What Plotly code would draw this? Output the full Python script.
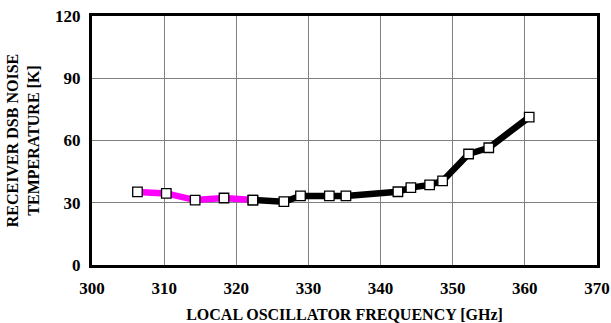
import plotly.graph_objects as go

freq_magenta = [306.3, 310.3, 314.3, 318.3, 322.3]
temp_magenta = [35.2, 34.5, 31.3, 32.3, 31.3]
freq_black = [322.3, 326.6, 328.9, 332.9, 335.2, 342.4, 344.2, 346.8, 348.6, 352.2, 355.0, 360.6]
temp_black = [31.3, 30.5, 33.3, 33.3, 33.3, 35.3, 37.3, 38.6, 40.5, 53.5, 56.5, 71.3]
x_ticks = [300, 310, 320, 330, 340, 350, 360, 370]
y_ticks = [0, 30, 60, 90, 120]

font = dict(family="Liberation Serif", color="black")
fig = go.Figure()
fig.add_trace(go.Scatter(x=freq_magenta, y=temp_magenta, mode="lines",
                         line=dict(color="#ff00ff", width=6.5), showlegend=False))
fig.add_trace(go.Scatter(x=freq_black, y=temp_black, mode="lines",
                         line=dict(color="black", width=6.5), showlegend=False))
fig.add_trace(go.Scatter(x=freq_magenta + freq_black, y=temp_magenta + temp_black, mode="markers",
                         marker=dict(symbol="square", size=9.5, color="white",
                                     line=dict(color="black", width=1.3)),
                         showlegend=False))

axis_common = dict(showline=True, linewidth=3, linecolor="black", mirror=True,
                   showgrid=True, gridcolor="#808080", gridwidth=1, zeroline=False,
                   ticks="", tickfont=dict(size=17, **font), automargin=False,
                   ticklabeloverflow="allow")
fig.update_xaxes(range=[300, 370], tickvals=x_ticks, ticktext=["<b>%d</b>" % v for v in x_ticks],
                 ticklabelstandoff=6,
                 title=dict(text="<b>LOCAL OSCILLATOR FREQUENCY [GHz]</b>", font=dict(size=16, **font), standoff=19),
                 **axis_common)
fig.update_yaxes(range=[0, 120], tickvals=y_ticks, ticktext=["<b>%d</b>" % v for v in y_ticks],
                 ticklabelstandoff=5,
                 title=dict(text="<b>RECEIVER DSB NOISE<br>TEMPERATURE [K]</b>", font=dict(size=16, **font), standoff=12),
                 **axis_common)
fig.update_layout(width=611, height=323, margin=dict(l=92, r=14, t=16, b=58),
                  plot_bgcolor="white", paper_bgcolor="white",
                  font=dict(family="Liberation Serif", size=16, color="black"))
fig.write_html("out.html", config={"displayModeBar": False},
               post_script="document.body.style.margin='0';document.body.style.overflow='hidden';")
